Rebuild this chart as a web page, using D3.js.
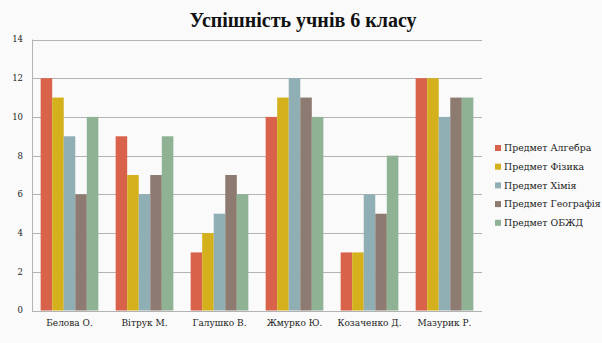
<!DOCTYPE html>
<html lang="uk">
<head>
<meta charset="UTF-8">
<title>Успішність учнів 6 класу</title>
<script src="https://d3js.org/d3.v7.min.js"></script>
<style>
  body { margin: 0; background: #fafafa; }
  text { font-family: "DejaVu Serif", "Liberation Serif", serif; fill: #222; }
</style>
</head>
<body>
<div id="chart"></div>
<script>
// data
var students = ["Белова О.", "Вітрук М.", "Галушко В.", "Жмурко Ю.", "Козаченко Д.", "Мазурик Р."];
var subjects = ["Предмет Алгебра", "Предмет Фізика", "Предмет Хімія", "Предмет Географія", "Предмет ОБЖД"];
var algebra   = [12, 9, 3, 10, 3, 12];
var physics   = [11, 7, 4, 11, 3, 12];
var chemistry = [9, 6, 5, 12, 6, 10];
var geography = [6, 7, 7, 11, 5, 11];
var safety    = [10, 9, 6, 10, 8, 11];
var yTicks = [0, 2, 4, 6, 8, 10, 12, 14];
var colors = ["#d8624a", "#d4b11c", "#8fafb5", "#8d7b72", "#8fb294"];

var series = [algebra, physics, chemistry, geography, safety];

var W = 602, H = 343;
var plot = {left: 32, right: 482, top: 39.5, bottom: 310.5};

var svg = d3.select("#chart").append("svg")
    .attr("width", W)
    .attr("height", H);

svg.append("rect").attr("width", W).attr("height", H).attr("fill", "#fafafa");

var x = d3.scaleBand()
    .domain(students)
    .range([plot.left, plot.right])
    .paddingInner(0)
    .paddingOuter(0);

var x1 = d3.scaleBand()
    .domain(d3.range(subjects.length))
    .range([0, x.bandwidth()])
    .paddingOuter(0.75)   // ~150% gap between groups
    .paddingInner(0);

var y = d3.scaleLinear()
    .domain([0, 14])
    .range([plot.bottom, plot.top]);

// gridlines
svg.append("g")
    .selectAll("line")
    .data(yTicks)
    .enter().append("line")
    .attr("x1", plot.left)
    .attr("x2", plot.right)
    .attr("y1", function(d) { return Math.round(y(d)) + 0.5; })
    .attr("y2", function(d) { return Math.round(y(d)) + 0.5; })
    .attr("stroke", "#b3b3b3")
    .attr("stroke-width", 1);

// y axis line
svg.append("line")
    .attr("x1", plot.left + 0.5).attr("x2", plot.left + 0.5)
    .attr("y1", plot.top).attr("y2", Math.round(plot.bottom) + 0.5)
    .attr("stroke", "#b3b3b3");

// y tick labels
svg.append("g")
    .selectAll("text")
    .data(yTicks)
    .enter().append("text")
    .attr("x", 23)
    .attr("y", function(d) { return y(d); })
    .attr("dy", "0.35em")
    .attr("text-anchor", "end")
    .style("font-size", "8.5px")
    .text(function(d) { return d; });

// bars
var groups = svg.append("g")
    .selectAll("g")
    .data(students)
    .enter().append("g")
    .attr("transform", function(d) { return "translate(" + x(d) + ",0)"; });

groups.selectAll("rect")
    .data(function(d, i) { return series.map(function(s, k) { return {k: k, v: s[i]}; }); })
    .enter().append("rect")
    .attr("x", function(d) { return x1(d.k); })
    .attr("width", x1.bandwidth())
    .attr("y", function(d) { return y(d.v); })
    .attr("height", function(d) { return y(0) - y(d.v); })
    .attr("fill", function(d) { return colors[d.k]; });

// category labels
svg.append("g")
    .selectAll("text")
    .data(students)
    .enter().append("text")
    .attr("x", function(d) { return x(d) + x.bandwidth() / 2; })
    .attr("y", 326)
    .attr("text-anchor", "middle")
    .style("font-size", "9px")
    .text(function(d) { return d; });

// title
svg.append("text")
    .attr("x", 303)
    .attr("y", 27)
    .attr("text-anchor", "middle")
    .style("font-family", "'Liberation Serif', serif")
    .style("font-size", "20px")
    .style("font-weight", "bold")
    .style("fill", "#111")
    .text("Успішність учнів 6 класу");

// legend
var legend = svg.append("g")
    .selectAll("g")
    .data(subjects)
    .enter().append("g")
    .attr("transform", function(d, i) { return "translate(495," + (148 + i * 18.7) + ")"; });

legend.append("rect")
    .attr("x", 0).attr("y", -3)
    .attr("width", 6).attr("height", 6)
    .attr("fill", function(d, i) { return colors[i]; });

legend.append("text")
    .attr("x", 9)
    .attr("y", 0)
    .attr("dy", "0.35em")
    .style("font-size", "9.4px")
    .text(function(d) { return d; });
</script>
</body>
</html>
